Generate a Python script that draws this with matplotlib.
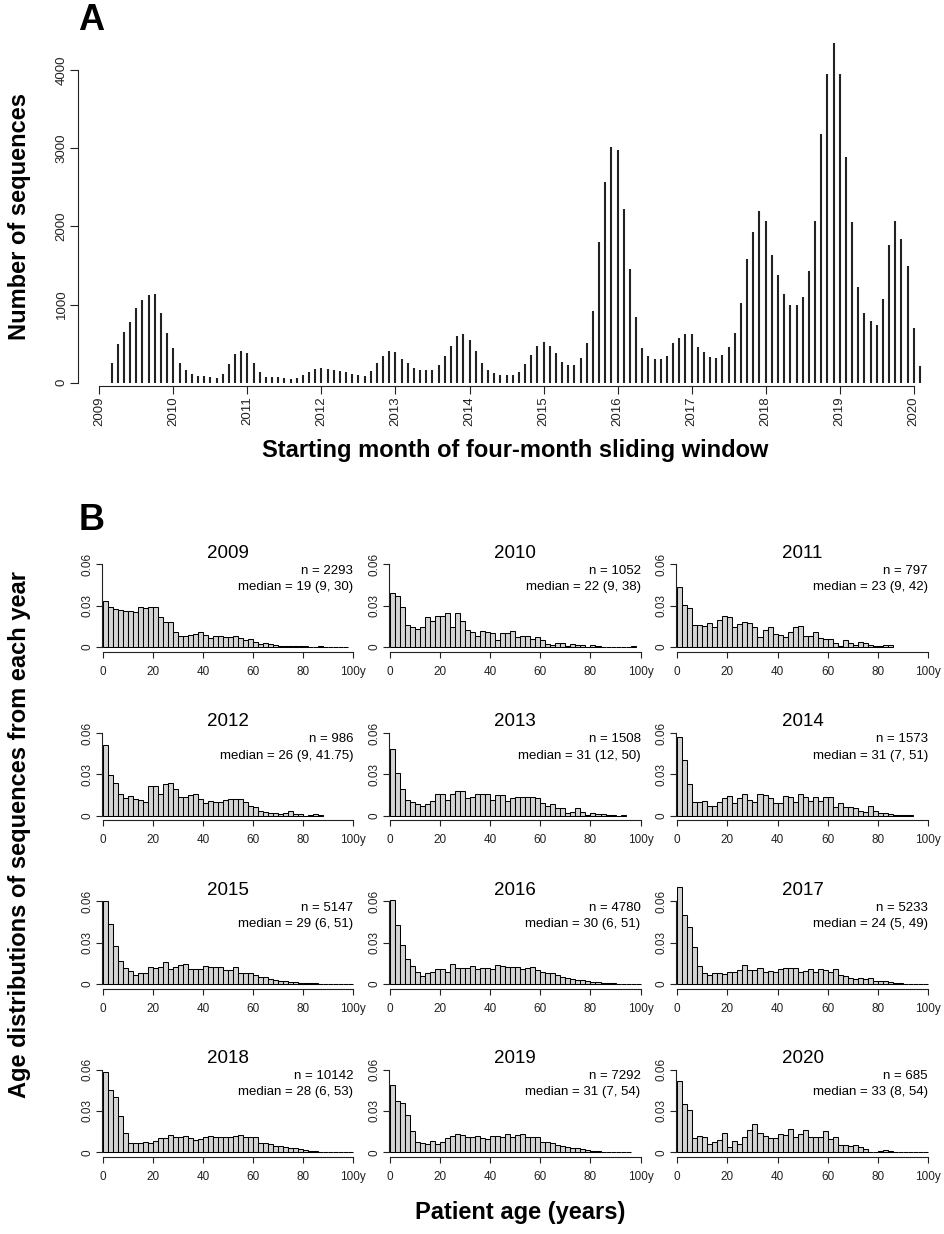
# sequence_age_panels.py
# Panel A: monthly sliding-window sequence counts; Panel B: age histograms per year.

import matplotlib
matplotlib.use("Agg")
import matplotlib.pyplot as plt

plt.rcParams['font.family'] = ['Liberation Sans', 'DejaVu Sans']

# ---- Panel A data: starting months Mar 2009 .. Feb 2020 ----
first_year, first_month = 2009, 3
window_counts = [
    255, 489, 647, 779, 962, 1064, 1119, 1140, 894, 638,                  # 2009 Mar-Dec
    438, 247, 162, 106, 89, 85, 72, 64, 111, 238, 362, 409,               # 2010
    374, 247, 140, 77, 72, 68, 55, 51, 64, 102, 136, 170,                 # 2011
    187, 170, 162, 145, 132, 111, 94, 89, 149, 255, 340, 404,             # 2012
    387, 298, 247, 187, 162, 162, 162, 221, 336, 472, 596, 621,           # 2013
    540, 404, 250, 162, 119, 98, 98, 98, 140, 238, 353, 472,              # 2014
    523, 468, 374, 264, 226, 226, 319, 511, 919, 1800, 2562, 3013,        # 2015
    2979, 2217, 1451, 843, 447, 340, 298, 306, 336, 502, 566, 617,        # 2016
    621, 451, 391, 323, 311, 349, 460, 638, 1021, 1587, 1928, 2200,       # 2017
    2072, 1638, 1383, 1136, 1000, 991, 1098, 1430, 2068, 3183, 3953, 4340,  # 2018
    3953, 2881, 2051, 1226, 898, 791, 732, 1077, 1766, 2072, 1834, 1494,  # 2019
    694, 217,                                                             # 2020 Jan-Feb
]
year_ticks = list(range(2009, 2021))
count_ticks = [0, 1000, 2000, 3000, 4000]

# ---- Panel B data: density per 2-year age bin, starting at age 0 ----
years = list(range(2009, 2021))
sample_sizes = [2293, 1052, 797, 986, 1508, 1573, 5147, 4780, 5233, 10142, 7292, 685]
median_labels = ["19 (9, 30)", "22 (9, 38)", "23 (9, 42)", "26 (9, 41.75)",
                 "31 (12, 50)", "31 (7, 51)", "29 (6, 51)", "30 (6, 51)",
                 "24 (5, 49)", "28 (6, 53)", "31 (7, 54)", "33 (8, 54)"]

dens_2009 = [0.0336, 0.0293, 0.0278, 0.0269, 0.0261, 0.0261, 0.0252, 0.0288, 0.0281, 0.0293,
             0.0288, 0.0220, 0.0184, 0.0184, 0.0111, 0.0080, 0.0080, 0.0087, 0.0094, 0.0106,
             0.0087, 0.0068, 0.0082, 0.0080, 0.0070, 0.0073, 0.0077, 0.0063, 0.0051, 0.0058,
             0.0036, 0.0022, 0.0027, 0.0019, 0.0012, 0.0010, 0.0007, 0.0005, 0.0007, 0.0007,
             0.0005, 0.0003, 0.0003, 0.0005, 0.0003, 0.0001, 0.0002, 0.0002, 0.0002]
dens_2010 = [0.0394, 0.0370, 0.0293, 0.0160, 0.0148, 0.0133, 0.0148, 0.0220, 0.0191, 0.0225,
             0.0227, 0.0244, 0.0148, 0.0244, 0.0189, 0.0123, 0.0111, 0.0080, 0.0116, 0.0111,
             0.0104, 0.0051, 0.0099, 0.0104, 0.0119, 0.0070, 0.0082, 0.0082, 0.0056, 0.0073,
             0.0051, 0.0022, 0.0017, 0.0031, 0.0031, 0.0010, 0.0022, 0.0017, 0.0017, 0.0,
             0.0012, 0.0007, 0.0002, 0.0, 0.0, 0.0, 0.0, 0.0, 0.0007]
dens_2011 = [0.0433, 0.0302, 0.0283, 0.0162, 0.0162, 0.0152, 0.0177, 0.0148, 0.0196, 0.0227,
             0.0220, 0.0148, 0.0165, 0.0181, 0.0177, 0.0143, 0.0075, 0.0123, 0.0143, 0.0092,
             0.0087, 0.0070, 0.0106, 0.0143, 0.0155, 0.0080, 0.0082, 0.0111, 0.0065, 0.0056,
             0.0056, 0.0031, 0.0005, 0.0048, 0.0031, 0.0017, 0.0036, 0.0031, 0.0012, 0.0007,
             0.0010, 0.0012, 0.0017]
dens_2012 = [0.0516, 0.0294, 0.0239, 0.0154, 0.0125, 0.0142, 0.0120, 0.0113, 0.0099, 0.0214,
             0.0214, 0.0161, 0.0229, 0.0234, 0.0195, 0.0133, 0.0133, 0.0149, 0.0161, 0.0120,
             0.0094, 0.0104, 0.0101, 0.0101, 0.0113, 0.0118, 0.0118, 0.0118, 0.0101, 0.0070,
             0.0060, 0.0036, 0.0029, 0.0022, 0.0017, 0.0010, 0.0022, 0.0036, 0.0010, 0.0010,
             0.0, 0.0007, 0.0010, 0.0002]
dens_2013 = [0.0487, 0.0311, 0.0193, 0.0113, 0.0099, 0.0082, 0.0072, 0.0082, 0.0106, 0.0161,
             0.0154, 0.0113, 0.0157, 0.0181, 0.0181, 0.0125, 0.0133, 0.0161, 0.0161, 0.0154,
             0.0113, 0.0149, 0.0149, 0.0108, 0.0130, 0.0133, 0.0133, 0.0137, 0.0133, 0.0130,
             0.0089, 0.0072, 0.0084, 0.0058, 0.0058, 0.0022, 0.0029, 0.0053, 0.0029, 0.0007,
             0.0017, 0.0010, 0.0010, 0.0002, 0.0002, 0.0, 0.0002]
dens_2014 = [0.0571, 0.0402, 0.0229, 0.0101, 0.0096, 0.0108, 0.0070, 0.0070, 0.0101, 0.0125,
             0.0145, 0.0089, 0.0130, 0.0154, 0.0113, 0.0096, 0.0154, 0.0149, 0.0125, 0.0094,
             0.0089, 0.0145, 0.0133, 0.0101, 0.0157, 0.0137, 0.0108, 0.0133, 0.0108, 0.0133,
             0.0133, 0.0065, 0.0094, 0.0065, 0.0065, 0.0053, 0.0036, 0.0024, 0.0072, 0.0034,
             0.0022, 0.0017, 0.0010, 0.0005, 0.0002, 0.0002, 0.0002]
dens_2015 = [0.0605, 0.0437, 0.0274, 0.0168, 0.0118, 0.0096, 0.0062, 0.0077, 0.0082, 0.0120,
             0.0113, 0.0120, 0.0156, 0.0110, 0.0120, 0.0137, 0.0142, 0.0110, 0.0110, 0.0110,
             0.0127, 0.0120, 0.0120, 0.0125, 0.0101, 0.0101, 0.0120, 0.0082, 0.0077, 0.0077,
             0.0065, 0.0053, 0.0048, 0.0038, 0.0031, 0.0024, 0.0024, 0.0017, 0.0012, 0.0010,
             0.0007, 0.0005, 0.0005, 0.0002, 0.0002, 0.0001, 0.0001, 0.0001, 0.0001, 0.0001]
dens_2016 = [0.0610, 0.0425, 0.0281, 0.0180, 0.0130, 0.0089, 0.0058, 0.0077, 0.0089, 0.0108,
             0.0108, 0.0089, 0.0142, 0.0118, 0.0118, 0.0113, 0.0130, 0.0106, 0.0115, 0.0115,
             0.0110, 0.0139, 0.0130, 0.0120, 0.0120, 0.0120, 0.0110, 0.0115, 0.0125, 0.0101,
             0.0086, 0.0082, 0.0077, 0.0065, 0.0053, 0.0046, 0.0038, 0.0029, 0.0029, 0.0024,
             0.0017, 0.0012, 0.0010, 0.0007, 0.0005, 0.0002, 0.0002, 0.0001, 0.0001, 0.0001]
dens_2017 = [0.0706, 0.0497, 0.0413, 0.0269, 0.0134, 0.0082, 0.0067, 0.0077, 0.0077, 0.0072,
             0.0084, 0.0089, 0.0101, 0.0137, 0.0101, 0.0101, 0.0118, 0.0089, 0.0094, 0.0089,
             0.0106, 0.0113, 0.0113, 0.0118, 0.0089, 0.0096, 0.0110, 0.0089, 0.0106, 0.0101,
             0.0089, 0.0106, 0.0067, 0.0060, 0.0043, 0.0038, 0.0041, 0.0038, 0.0041, 0.0024,
             0.0024, 0.0024, 0.0014, 0.0010, 0.0010, 0.0002, 0.0002, 0.0001, 0.0001, 0.0001]
dens_2018 = [0.0581, 0.0454, 0.0401, 0.0260, 0.0138, 0.0070, 0.0070, 0.0070, 0.0078, 0.0070,
             0.0085, 0.0102, 0.0102, 0.0126, 0.0114, 0.0109, 0.0119, 0.0102, 0.0090, 0.0095,
             0.0109, 0.0119, 0.0114, 0.0109, 0.0114, 0.0114, 0.0119, 0.0124, 0.0109, 0.0109,
             0.0109, 0.0070, 0.0066, 0.0058, 0.0049, 0.0046, 0.0036, 0.0034, 0.0029, 0.0022,
             0.0017, 0.0012, 0.0007, 0.0005, 0.0003, 0.0002, 0.0001, 0.0001, 0.0001, 0.0001]
dens_2019 = [0.0491, 0.0369, 0.0357, 0.0272, 0.0151, 0.0078, 0.0066, 0.0061, 0.0085, 0.0061,
             0.0078, 0.0102, 0.0121, 0.0134, 0.0124, 0.0114, 0.0114, 0.0119, 0.0102, 0.0095,
             0.0119, 0.0119, 0.0114, 0.0134, 0.0114, 0.0126, 0.0134, 0.0109, 0.0109, 0.0109,
             0.0078, 0.0078, 0.0066, 0.0053, 0.0049, 0.0041, 0.0034, 0.0029, 0.0022, 0.0017,
             0.0012, 0.0007, 0.0005, 0.0002, 0.0001, 0.0001, 0.0001, 0.0001]
dens_2020 = [0.0515, 0.0352, 0.0304, 0.0102, 0.0121, 0.0114, 0.0061, 0.0078, 0.0090, 0.0143,
             0.0041, 0.0085, 0.0061, 0.0114, 0.0163, 0.0202, 0.0143, 0.0121, 0.0102, 0.0102,
             0.0134, 0.0124, 0.0168, 0.0114, 0.0134, 0.0163, 0.0114, 0.0114, 0.0114, 0.0158,
             0.0097, 0.0109, 0.0053, 0.0053, 0.0046, 0.0051, 0.0041, 0.0022, 0.0, 0.0,
             0.0007, 0.0017, 0.0010, 0.0, 0.0, 0.0005, 0.0, 0.0, 0.0, 0.0005]
age_densities = [dens_2009, dens_2010, dens_2011, dens_2012, dens_2013, dens_2014,
                 dens_2015, dens_2016, dens_2017, dens_2018, dens_2019, dens_2020]
bin_width = 2
age_ticks = [0, 20, 40, 60, 80, 100]
age_tick_labels = ["0", "20", "40", "60", "80", "100y"]
density_ticks = [0, 0.03, 0.06]
density_tick_labels = ["0", "0.03", "0.06"]

W, H = 944, 1234
AXIS_COLOR = "#222222"
LABEL_SIZE = 17


def px_rect(left, top, right, bottom):
    """Figure rect from pixel edges (top-left origin)."""
    return [left / W, 1 - bottom / H, (right - left) / W, (bottom - top) / H]


def style_axes(ax):
    for side in ("top", "right"):
        ax.spines[side].set_visible(False)
    for side in ("left", "bottom"):
        ax.spines[side].set_linewidth(0.8)
        ax.spines[side].set_color(AXIS_COLOR)
    ax.tick_params(colors=AXIS_COLOR, width=0.8, direction="out")


def plot_windows(fig):
    # pixel anchors: year 2009 -> 99.3px, 74.04px per year; 0 -> 382.7px, 0.07817px per count
    x0, sx = 99.3, 74.04
    y0, sy = 382.7, 0.07817
    left, right, top, bottom = 78, 935, 35, 386
    ax = fig.add_axes(px_rect(left, top, right, bottom))
    ax.set_xlim(2009 + (left - x0) / sx, 2009 + (right - x0) / sx)
    ax.set_ylim((y0 - bottom) / sy, (y0 - top) / sy)

    months = [first_year + (first_month - 1 + i) / 12 for i in range(len(window_counts))]
    ax.vlines(months, 0, window_counts, colors=AXIS_COLOR, linewidth=1.5)

    style_axes(ax)
    ax.spines["left"].set_bounds(0, 4000)
    ax.spines["bottom"].set_bounds(2009, 2020)
    ax.set_xticks(year_ticks)
    ax.set_xticklabels([str(y) for y in year_ticks], rotation=90, fontsize=9.5)
    ax.set_yticks(count_ticks)
    ax.set_yticklabels([str(c) for c in count_ticks], rotation=90, va="center", fontsize=9.5)
    ax.tick_params(length=5.5, pad=2)

    fig.text(20 / W, 1 - 217 / H, "Number of sequences", rotation=90, fontsize=LABEL_SIZE,
             fontweight="bold", ha="center", va="center")
    fig.text(515 / W, 1 - 450 / H, "Starting month of four-month sliding window",
             fontsize=LABEL_SIZE, fontweight="bold", ha="center", va="center")
    fig.text(91 / W, 1 - 21 / H, "A", fontsize=26, fontweight="bold", ha="center", va="center")


def plot_age_histograms(fig):
    col_x0 = [102.7, 390.0, 677.3]      # pixel of age 0
    row_y0 = [647.0, 815.7, 984.0, 1152.3]  # pixel of density 0
    sx = 250.6 / 100                     # px per year
    sy = 82.7 / 0.06                     # px per density unit
    for k, year in enumerate(years):
        r, c = divmod(k, 3)
        x0, y0 = col_x0[c], row_y0[r]
        left, right = x0 - 1.2, x0 + 265
        top, bottom = y0 - 82.7 - 32, y0 + 4.7
        ax = fig.add_axes(px_rect(left, top, right, bottom))
        ax.set_xlim((left - x0) / sx, (right - x0) / sx)
        ax.set_ylim((y0 - bottom) / sy, (y0 - top) / sy)

        dens = age_densities[k]
        edges = [i * bin_width for i in range(len(dens))]
        ax.bar(edges, dens, width=bin_width, align="edge", color="#d4d4d4",
               edgecolor="black", linewidth=0.75)

        style_axes(ax)
        ax.spines["left"].set_bounds(0, 0.06)
        ax.spines["bottom"].set_bounds(0, 100)
        ax.set_xticks(age_ticks)
        ax.set_xticklabels(age_tick_labels, fontsize=8.5)
        ax.set_yticks(density_ticks)
        ax.set_yticklabels(density_tick_labels, rotation=90, va="center", fontsize=8.5)
        ax.tick_params(length=4, pad=2)
        ax.tick_params(axis="x", pad=6)

        ax.text(50, 0.06 + 11 / sy, str(year), fontsize=13.5, ha="center", va="center")
        ax.text(100, 0.06 - 6.4 / sy, f"n = {sample_sizes[k]}", fontsize=9.5,
                ha="right", va="center")
        ax.text(100, 0.06 - 22.7 / sy, f"median = {median_labels[k]}", fontsize=9.5,
                ha="right", va="center")

    fig.text(20 / W, 1 - 835 / H, "Age distributions of sequences from each year",
             rotation=90, fontsize=LABEL_SIZE, fontweight="bold", ha="center", va="center")
    fig.text(520 / W, 1 - 1212 / H, "Patient age (years)", fontsize=LABEL_SIZE,
             fontweight="bold", ha="center", va="center")
    fig.text(92 / W, 1 - 520 / H, "B", fontsize=26, fontweight="bold", ha="center", va="center")


def main():
    fig = plt.figure(figsize=(W / 100, H / 100), dpi=100)
    plot_windows(fig)
    plot_age_histograms(fig)
    fig.savefig("out.png", dpi=100)


if __name__ == "__main__":
    main()
